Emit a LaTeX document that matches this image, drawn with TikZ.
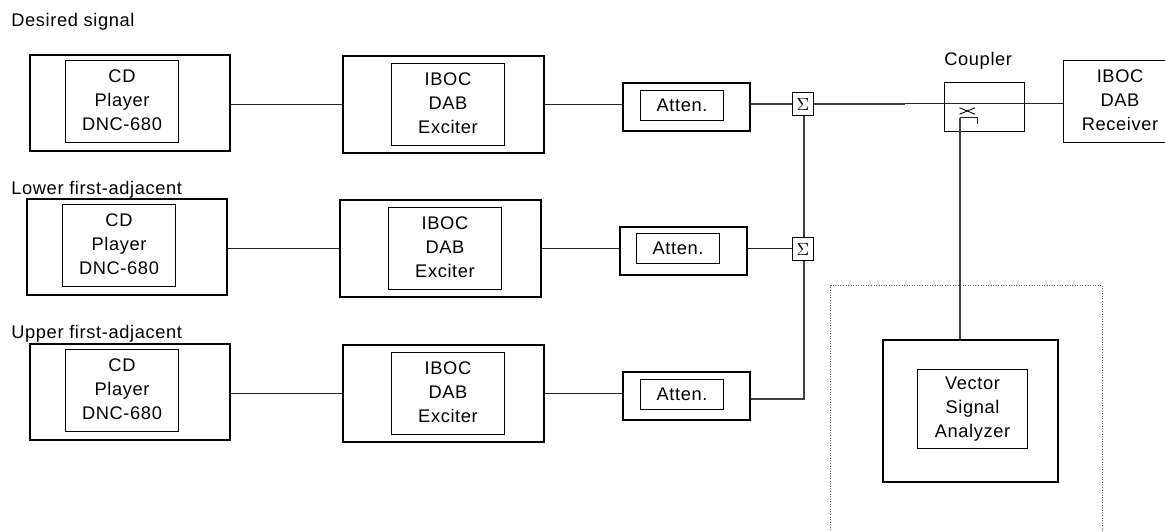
\documentclass[tikz,border=0pt]{standalone}
\usepackage{fontspec}
\setmainfont{Liberation Sans}[LetterSpace=3.4]
\begin{document}
\begin{tikzpicture}[
        x=0.02cm, y=-0.02cm,
        every node/.style={font=\fontsize{10.4}{13.6}\selectfont, align=center},
        outerbox/.style={rectangle, draw, line width=1.2pt, inner sep=0pt},
        innerbox/.style={rectangle, draw, line width=0.6pt, inner sep=0pt, text depth=2pt, minimum width=2.26cm, minimum height=1.64cm},
        playerbox/.style={outerbox, minimum width=4cm, minimum height=1.92cm},
        exciterbox/.style={outerbox, minimum width=4.02cm, minimum height=1.94cm},
        attenbox/.style={outerbox, minimum width=2.54cm, minimum height=0.96cm},
        attentext/.style={innerbox, text depth=0pt, minimum width=1.66cm, minimum height=0.6cm},
        sumbox/.style={rectangle, draw, line width=0.55pt, inner sep=0pt, minimum width=0.41cm, minimum height=0.47cm},
        caption/.style={anchor=base west, inner sep=0pt},
        wire/.style={line width=0.6pt, black!85},
        bus/.style={line width=0.95pt, black!75}
        ]
      \useasboundingbox (0,0) rectangle (1165,531);
      \node[caption] (desired) at (11,26) {Desired signal};
      \node[caption] (lower) at (11,194) {Lower first-adjacent};
      \node[caption] (upper) at (11,338) {Upper first-adjacent};
      \node[caption] (couplerlabel) at (944,65) {Coupler};
      \node[playerbox] (cdo1) at (130,103) {};
      \node[innerbox] (cd1) at (122,101.5) {CD\\Player\\DNC-680};
      \node[exciterbox] (exco1) at (443.5,104.5) {};
      \node[innerbox] (exc1) at (448,104.5) {IBOC\\DAB\\Exciter};
      \node[attenbox] (atto1) at (686.5,107) {};
      \node[attentext] (att1) at (682,105.5) {Atten.};
      \node[sumbox] (sum1) at (803,104) {$\Sigma$};
      \node[playerbox] (cdo2) at (127,247) {};
      \node[innerbox] (cd2) at (119,245.5) {CD\\Player\\DNC-680};
      \node[exciterbox] (exco2) at (440.5,248.5) {};
      \node[innerbox] (exc2) at (445,248.5) {IBOC\\DAB\\Exciter};
      \node[attenbox] (atto2) at (683.5,251) {};
      \node[attentext] (att2) at (678,248.5) {Atten.};
      \node[sumbox] (sum2) at (803,249) {$\Sigma$};
      \node[playerbox] (cdo3) at (130,392) {};
      \node[innerbox] (cd3) at (122,390.5) {CD\\Player\\DNC-680};
      \node[exciterbox] (exco3) at (443.5,393.5) {};
      \node[innerbox] (exc3) at (448,393.5) {IBOC\\DAB\\Exciter};
      \node[attenbox] (atto3) at (686.5,396) {};
      \node[attentext] (att3) at (682,394.5) {Atten.};
      \coordinate (corner) at (804,399);
      \node[rectangle, draw, line width=0.6pt, minimum width=1.6cm, minimum height=0.98cm, inner sep=0pt] (coupler) at (984.5,107) {};
      \node[innerbox] (receiver) at (1120,101.5) {IBOC\\DAB\\Receiver};
      \node[rectangle, draw, densely dotted, line width=0.45pt, black!60, minimum width=5.43cm, minimum height=5.2cm, inner sep=0pt] (area) at (966.4,415) {};
      \node[outerbox, minimum width=3.5cm, minimum height=2.84cm] (vsao) at (970.5,411) {};
      \node[innerbox, minimum width=2.2cm, minimum height=1.58cm] (vsa) at (972.5,409) {Vector\\Signal\\Analyzer};
      \coordinate (crossa) at (959.5,107.8);
      \coordinate (crossb) at (975,114.2);
      \coordinate (crossc) at (959.5,114.2);
      \coordinate (crossd) at (975,107.8);
      \coordinate (hook) at (960,117.5);
      \coordinate (hookend) at (977.5,124.4);
      \coordinate (thick) at (905,103.7);
      \draw[wire] (exco1.west -| cdo1.east) -- (exco1.west);
      \draw[wire] (exco2.west -| cdo2.east) -- (exco2.west);
      \draw[wire] (exco3.west -| cdo3.east) -- (exco3.west);
      \draw[wire] (exco1.east) -- (exco1.east -| atto1.west);
      \draw[wire] (exco2.east) -- (exco2.east -| atto2.west);
      \draw[wire] (exco3.east) -- (exco3.east -| atto3.west);
      \draw[bus] (sum1.west -| atto1.east) -- (sum1.west);
      \draw[wire] (exco2.east -| atto2.east) -- (exco2.east -| sum2.west);
      \draw[bus] (corner -| atto3.east) -- (corner) -- (sum2.south -| corner);
      \draw[bus] (sum2.north -| corner) -- (sum1.south -| corner);
      \draw[wire] (thick -| sum1.east) -- (thick -| receiver.west);
      \draw[bus] (thick -| sum1.east) -- (thick);
      \draw[line width=0.5pt] (crossa) -- (crossb);
      \draw[line width=0.5pt] (crossc) -- (crossd);
      \draw[bus] (vsao.north -| hook) -- (hook);
      \draw[wire] (hook) -| (hookend);
\end{tikzpicture}
\end{document}
